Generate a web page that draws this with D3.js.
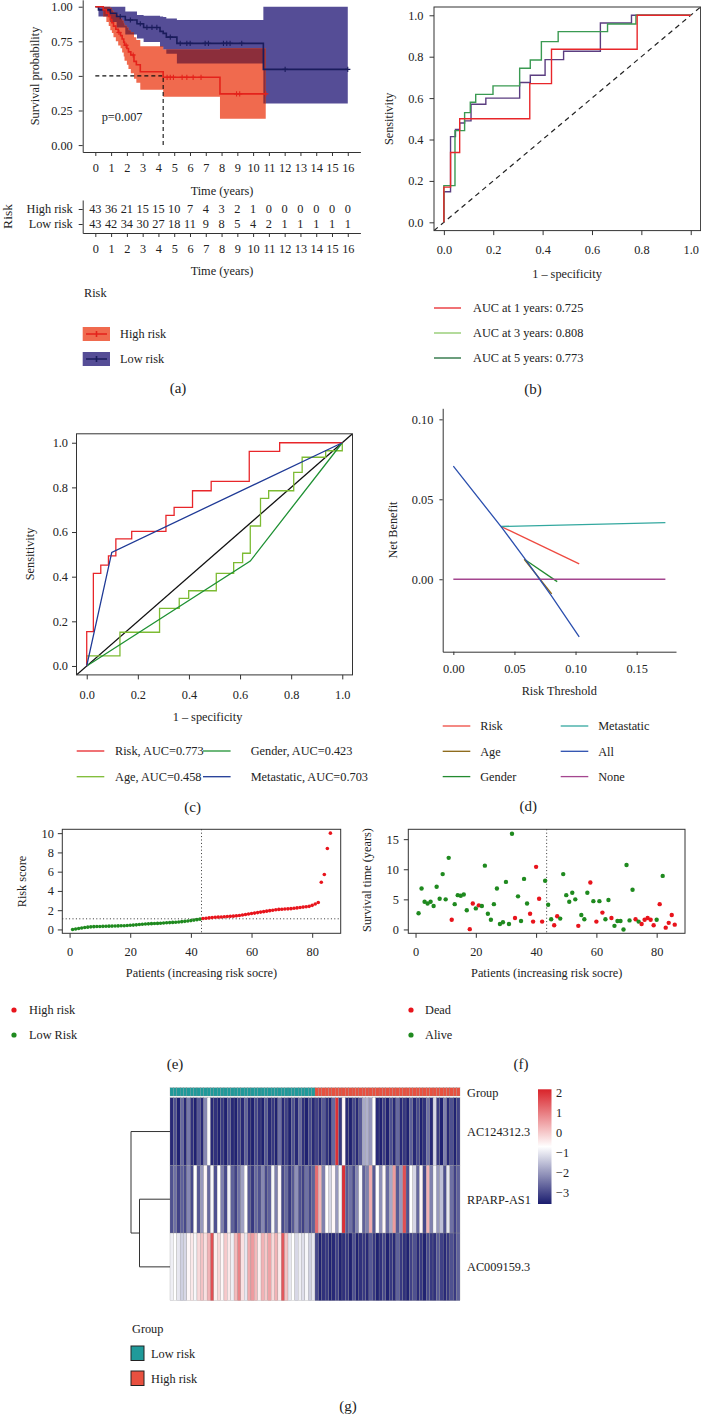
<!DOCTYPE html>
<html>
<head>
<meta charset="utf-8">
<script src="https://cdnjs.cloudflare.com/ajax/libs/d3/7.8.5/d3.min.js"></script>
<style>
  body { margin: 0; background: #fff; }
  svg text { font-family: "Liberation Serif", "Times New Roman", serif; fill: #222; }
</style>
</head>
<body>
<svg id="fig" width="701" height="1416"></svg>
<script>
var FONT = '"Liberation Serif", "Times New Roman", serif';
var FS = 12.3;

// ---------- (a) Kaplan-Meier ----------
var kmHighTime  = [0, 0.5, 0.7, 0.85, 0.95, 1.05, 1.15, 1.3, 1.45, 1.6, 1.7, 1.8, 1.85, 2.0, 2.1, 2.25, 2.45, 2.6, 2.85, 4.3, 7.9];
var kmHighSurv  = [1, .977, .953, .93, .907, .884, .86, .837, .814, .791, .767, .744, .721, .698, .674, .651, .605, .581, .53, .49, .37];
var kmHighUpper = [1, 1, 1, 1, .99, .975, .96, .945, .93, .915, .9, .88, .865, .85, .83, .815, .78, .76, .715, .69, .70];
var kmHighLower = [1, .93, .89, .86, .83, .81, .78, .75, .72, .70, .67, .64, .61, .58, .55, .52, .48, .45, .40, .35, .19];
var kmHighEnd = 10.8;
var kmHighCensor = [1.5, 1.95, 2.4, 4.55, 4.75, 4.95, 5.5, 5.8, 6.2, 6.7, 8.95, 9.15, 10.8];

var kmLowTime  = [0, 0.2, 0.95, 1.35, 1.9, 2.64, 3.06, 4.1, 4.3, 4.5, 5.17, 10.65];
var kmLowSurv  = [1, .977, .953, .929, .904, .877, .85, .822, .807, .78, .735, .547];
var kmLowUpper = [1, 1, 1, 1, .965, .94, .935, .93, .925, .915, .904, 1];
var kmLowLower = [1, .93, .89, .85, .80, .77, .745, .71, .69, .66, .59, .30];
var kmLowEnd = 16;
var kmLowCensor = [1.58, 2.22, 2.85, 3.27, 3.59, 3.9, 4.75, 5.38, 5.8, 6.01, 6.96, 7.17, 8.12, 8.33, 8.54, 9.28, 12.03, 16];

var tableYears = [0, 1, 2, 3, 4, 5, 6, 7, 8, 9, 10, 11, 12, 13, 14, 15, 16];
var atRiskHigh = [43, 36, 21, 15, 15, 10, 7, 4, 3, 2, 1, 0, 0, 0, 0, 0, 0];
var atRiskLow  = [43, 42, 34, 30, 27, 18, 11, 9, 8, 5, 4, 2, 1, 1, 1, 1, 1];
var pValue = "p=0.007";

// ---------- (b) time ROC (vertices: up, then right) ----------
var roc1y = [[0,0],[0.027,0.17],[0.064,0.337],[0.348,0.50],[0.436,0.67],[0.783,0.836],[1,1]];
var roc3y = [[0,0],[0.045,0.177],[0.084,0.443],[0.107,0.53],[0.129,0.58],[0.199,0.618],[0.307,0.659],[0.35,0.744],[0.395,0.784],[0.463,0.873],[0.663,0.921],[0.778,0.958],[1,1]];
var roc5y = [[0,0],[0.027,0.148],[0.047,0.414],[0.064,0.449],[0.084,0.48],[0.11,0.49],[0.17,0.57],[0.307,0.60],[0.35,0.675],[0.41,0.71],[0.485,0.786],[0.634,0.826],[0.76,0.963],[1,1]];
var rocLegend = ["AUC at 1 years: 0.725", "AUC at 3 years: 0.808", "AUC at 5 years: 0.773"];

// ---------- (c) clinical ROC ----------
var rocRisk = [[0,0],[0.026,0.154],[0.055,0.415],[0.085,0.452],[0.114,0.493],[0.176,0.569],[0.31,0.603],[0.342,0.675],[0.414,0.71],[0.487,0.785],[0.636,0.827],[0.755,0.961],[1,1]];
var rocAge = [[0,0],[0.13,0.045],[0.285,0.151],[0.362,0.258],[0.399,0.303],[0.507,0.337],[0.575,0.415],[0.61,0.463],[0.64,0.505],[0.68,0.627],[0.712,0.751],[0.81,0.785],[0.843,0.867],[0.935,0.935],[1,0.964],[1,1]];
var rocGender = [[0,0],[0.64,0.47],[1,1]];
var rocMeta = [[0,0],[0.098,0.509],[1,1]];
var clinLegend = ["Risk, AUC=0.773", "Gender, AUC=0.423", "Age, AUC=0.458", "Metastatic, AUC=0.703"];

// ---------- (d) decision curve ----------
var dcaRisk = [[0.039,0.033],[0.103,0.0096]];
var dcaAge = [[0.058,0.0125],[0.0805,-0.0092]];
var dcaGender = [[0.059,0.012],[0.085,-0.0015]];
var dcaMeta = [[0.039,0.033],[0.1735,0.0354]];
var dcaAll = [[0,0.0707],[0.04,0.032],[0.06,0.0114],[0.08,-0.0101],[0.103,-0.036]];
var dcaNone = [[0,0],[0.1735,0]];

// ---------- (e)/(f) risk score and survival ----------
var riskLow = [0.0,0.05,0.1,0.15,0.2,0.24,0.27,0.29,0.3,0.31, 0.32,0.33,0.34,0.35,0.36,0.37,0.38,0.39,0.41,0.43,
  0.45,0.48,0.51,0.54,0.56,0.58,0.6,0.62,0.63,0.65, 0.67,0.69,0.71,0.73,0.75,0.78,0.81,0.84,0.88,0.92, 0.97,1.02,1.07];
var riskHigh = [1.14,1.17,1.2,1.23,1.26,1.28,1.3,1.32,1.34,1.36, 1.38,1.41,1.45,1.5,1.55,1.6,1.65,1.7,1.75,1.8,
  1.85,1.9,1.95,2.0,2.05,2.08,2.1,2.12,2.14,2.16, 2.2,2.24,2.28,2.32,2.36,2.4,2.5,2.65,2.8,4.9, 5.7,8.4,10.0];
var survTime = [2.7,6.8,4.6,4.3,4.6,3.9,7.1,5.1,9.2,5.0, 11.9,1.6,4.2,5.7,5.6,5.8,3.2,0.05,4.3,3.5,
  4.0,3.9,10.6,2.6,1.6,4.2,6.8,0.9,1.2,7.9, 0.9,15.9,1.9,5.5,1.4,8.4,4.3,2.6,1.3,10.4,
  5.1,1.3,8.1,4.1,1.7,0.7,2.2,1.8,9.2,5.7, 4.6,6.1,5.0,0.6,2.4,1.7,6.1,7.8,4.7,1.3,
  4.7,2.8,1.7,4.9,1.9,0.6,1.4,1.4,0.0,10.7, 1.5,6.6,1.7,1.3,0.9,1.6,1.9,1.6,0.7,1.6,
  4.2,8.9,0.3,1.1,2.4,0.8];
var survStatus = [0,0,0,0,0,0,0,0,0,0, 0,1,0,0,0,0,0,1,1,0, 1,0,0,0,0,0,0,0,0,0,
  0,0,1,0,0,0,0,1,1,1, 1,1,0,0,0,1,1,0,0,0, 0,0,0,1,0,0,0,1,0,1,
  0,1,0,0,1,0,0,0,0,0, 0,0,1,0,1,1,1,1,1,0, 1,0,1,1,1,1];

// ---------- (g) heatmap ----------
var genes = ["AC124312.3", "RPARP-AS1", "AC009159.3"];
var exprAC124312 = [-3.4,-2.9,-3.5,-2.6,-3.4,-2.4,-3.3,-3.5,-2.8,-3.4, -2.2,-0.8,-3.4,-3.3,-3.5,-3.2,-3.5,-2.9,-3.4,-3.5,
  -3.1,-3.4,-2.7,-3.4,-3.5,-3.0,-3.3,-3.5,-2.8,-3.4, -3.2,-3.5,-2.5,-3.4,-3.1,-3.5,-2.9,-3.4,-2.6,-3.3, -3.5,-3.0,-3.4,
  -3.1,-3.4,-2.8,-3.3,-3.5,-2.6,2.0,-3.2,-0.6,-3.4, -3.5,-3.0,-3.4,-2.8,-1.8,-1.7,-2.0,-0.7,-3.4,-3.5,
  -3.1,-3.5,-2.9,-3.4,-2.6,-3.4,-3.2,-3.5,-2.7,-3.4, -3.0,-3.5,-3.3,-2.5,-3.4,-1.2,-3.2,-3.5,-2.3,-3.4, -2.9,-3.5,-3.1];
var exprRPARP = [-2.9,-2.5,-3.1,-2.7,-3.0,-2.2,-3.0,-0.7,-2.8,-2.0, -0.6,-2.6,-0.8,-2.9,-0.7,-2.3,-3.0,-0.9,-2.7,-3.1,
  -2.5,-1.9,-0.7,-2.8,-3.2,-2.6,-2.9,-2.2,-3.0,-2.7, -0.8,-2.3,-0.6,-3.0,-2.6,-3.2,-2.8,-2.1,-2.9,-3.1, -2.5,-3.0,-2.7,
  1.2,0.3,-2.3,-0.7,-1.2,-0.6,-2.0,-0.8,2.0,-2.8, -2.5,-3.0,-2.2,-0.8,-2.7,-2.3,0.4,-2.8,-0.7,-2.1,
  -0.6,-2.6,-1.8,0.6,-2.8,-2.0,1.6,-2.9,-0.7,-1.2, -2.6,-0.6,-3.0,0.3,-2.3,-0.8,-2.0,-1.5,-2.9,-1.0, -2.5,-3.1,-2.7];
var exprAC009159 = [-0.9,-0.7,-1.0,-1.3,-1.2,-0.6,-0.4,-0.8,-0.2,0.1, -0.3,0.3,1.6,-0.5,-0.2,-0.6,0.0,-0.4,-0.9,0.2,
  0.9,-0.3,-1.0,0.4,0.6,0.2,-0.5,0.3,0.0,0.5, -0.2,0.3,-0.4,1.5,0.1,-1.0,-0.7,-1.2,-0.9,-1.1, -0.8,-1.3,-1.0,
  -3.0,-3.5,-3.3,-3.2,-3.5,-3.4,-3.1,-3.5,-3.3,-3.2, -3.5,-2.9,-3.5,-3.3,-3.2,-3.4,-2.8,-3.2,-3.5,-3.3,
  -3.0,-3.5,-3.2,-3.4,-2.7,-3.2,-3.3,-3.5,-3.1,-2.9, -3.4,-3.2,-3.5,-3.0,-3.2,-3.3,-2.8,-3.1,-3.4,-3.2, -2.9,-3.2,-2.7];
var dendroHeights = [6.1, 7.8];   // merge (RPARP, AC009159), then with AC124312
var legendTicks = [2, 1, 0, -1, -2, -3];

var svg = d3.select("#fig");

function styleAxis(g, keepDomain) {
  g.attr("font-family", FONT).attr("font-size", FS);
  g.selectAll("line").attr("stroke", "#333");
  g.selectAll("path").attr("stroke", "#333");
  g.selectAll("text").attr("fill", "#333");
  if (!keepDomain) g.select(".domain").remove();
  return g;
}
function addText(x, y, txt, opts) {
  opts = opts || {};
  var t = svg.append("text").attr("x", x).attr("y", y).text(txt)
    .attr("font-size", opts.size || FS)
    .attr("text-anchor", opts.anchor || "start")
    .attr("fill", opts.fill || "#222");
  if (opts.rotate) t.attr("transform", "rotate(-90," + x + "," + y + ")");
  return t;
}

// ================= (a) =================
var xA = d3.scaleLinear().domain([-0.8, 16.8]).range([82.7, 360.4]);
var yA = d3.scaleLinear().domain([-0.05, 1.05]).range([152, -0.2]);
var gA = svg.append("g");

function kmRows(time, surv, up, lo, end) {
  var rows = time.map(function(t, i) { return {t: t, s: surv[i], hi: up[i], lo: lo[i]}; });
  var last = rows[rows.length - 1];
  rows.push({t: end, s: last.s, hi: last.hi, lo: last.lo});
  return rows;
}
var lowRows = kmRows(kmLowTime, kmLowSurv, kmLowUpper, kmLowLower, kmLowEnd);
var highRows = kmRows(kmHighTime, kmHighSurv, kmHighUpper, kmHighLower, kmHighEnd);

var band = d3.area().x(function(d) { return xA(d.t); })
  .y0(function(d) { return yA(d.lo); }).y1(function(d) { return yA(d.hi); })
  .curve(d3.curveStepAfter);
var kmLine = d3.line().x(function(d) { return xA(d.t); }).y(function(d) { return yA(d.s); })
  .curve(d3.curveStepAfter);

svg.append("clipPath").attr("id", "lowBand").append("path").attr("d", band(lowRows));
gA.append("path").attr("d", band(lowRows)).attr("fill", "#554d96");
gA.append("path").attr("d", band(highRows)).attr("fill", "#f06a4e");
gA.append("path").attr("d", band(highRows)).attr("fill", "#8c2e3b").attr("clip-path", "url(#lowBand)");

// median survival of the high-risk group
var medIdx = kmHighSurv.findIndex(function(s) { return s <= 0.5; });
var medT = kmHighTime[medIdx];
gA.append("path")
  .attr("d", "M" + xA(0) + "," + yA(0.5) + "H" + xA(medT) + "V" + yA(0))
  .attr("fill", "none").attr("stroke", "#111").attr("stroke-width", 1.1).attr("stroke-dasharray", "4,3");

gA.append("path").attr("d", kmLine(lowRows)).attr("fill", "none").attr("stroke", "#1b1c5c").attr("stroke-width", 1.6);
gA.append("path").attr("d", kmLine(highRows)).attr("fill", "none").attr("stroke", "#e4221b").attr("stroke-width", 1.6);

function censorMarks(times, time, surv, color) {
  gA.selectAll(null).data(times).enter().append("path")
    .attr("transform", function(t) {
      var s = surv[d3.bisectRight(time, t) - 1];
      return "translate(" + xA(t) + "," + yA(s) + ")";
    })
    .attr("d", "M-2.6,0H2.6M0,-2.6V2.6")
    .attr("stroke", color).attr("stroke-width", 1.1);
}
censorMarks(kmLowCensor, kmLowTime, kmLowSurv, "#1b1c5c");
censorMarks(kmHighCensor, kmHighTime, kmHighSurv, "#e4221b");

styleAxis(gA.append("g").attr("transform", "translate(82.7,0)")
  .call(d3.axisLeft(yA).tickValues([0, 0.25, 0.5, 0.75, 1]).tickFormat(d3.format(".2f"))
    .tickSize(4).tickPadding(6).tickSizeOuter(0)), true);
styleAxis(gA.append("g").attr("transform", "translate(0,152)")
  .call(d3.axisBottom(xA).tickValues(tableYears).tickSize(4).tickPadding(7.5).tickSizeOuter(0)), true);
addText(101.7, 121, pValue);
addText(39, 76, "Survival probability", {anchor: "middle", rotate: true});
addText(222, 194.5, "Time (years)", {anchor: "middle"});

// number-at-risk table
var tableRows = ["High risk", "Low risk"];
var rowColor = {"High risk": "#e4221b", "Low risk": "#2b2a78"};
var yT = d3.scalePoint().domain(tableRows).range([200, 233]).padding(0.6);
var gT = styleAxis(gA.append("g").attr("transform", "translate(82.7,0)")
  .call(d3.axisLeft(yT).tickSize(4).tickPadding(6).tickSizeOuter(0)), true);
gT.selectAll(".tick text").attr("fill", function(d) { return rowColor[d]; });
styleAxis(gA.append("g").attr("transform", "translate(0,233)")
  .call(d3.axisBottom(xA).tickValues(tableYears).tickSize(4).tickPadding(7.5).tickSizeOuter(0)), true);
[atRiskHigh, atRiskLow].forEach(function(vals, r) {
  gA.selectAll(null).data(vals).enter().append("text")
    .attr("x", function(d, i) { return xA(tableYears[i]); })
    .attr("y", yT(tableRows[r]) + 4.3)
    .attr("text-anchor", "middle").attr("font-size", FS)
    .attr("fill", rowColor[tableRows[r]])
    .text(function(d) { return d; });
});
addText(11.5, 216.5, "Risk", {anchor: "middle", rotate: true, size: 13.5});
addText(222, 274.5, "Time (years)", {anchor: "middle"});

// legend (a)
addText(84, 296.5, "Risk");
[["High risk", "#f06a4e", "#e4221b", 327], ["Low risk", "#554d96", "#1b1c5c", 352]].forEach(function(k) {
  svg.append("rect").attr("x", 82.7).attr("y", k[3]).attr("width", 27.3).attr("height", 14).attr("fill", k[1]);
  svg.append("path").attr("d", "M86," + (k[3] + 7) + "H107M96.5," + (k[3] + 4) + "V" + (k[3] + 10))
    .attr("stroke", k[2]).attr("stroke-width", 1.6);
  addText(120, k[3] + 11.3, k[0]);
});
addText(178, 393, "(a)", {anchor: "middle", size: 15});

// ================= ROC helpers =================
function rocPanel(x, y, cid) {
  var d = x.domain(), e = y.domain();
  svg.append("clipPath").attr("id", cid).append("rect")
    .attr("x", x(d[0])).attr("y", y(e[1])).attr("width", x(d[1]) - x(d[0])).attr("height", y(e[0]) - y(e[1]));
  var g = svg.append("g");
  var plot = g.append("g").attr("clip-path", "url(#" + cid + ")");
  g.append("rect").attr("x", x(d[0])).attr("y", y(e[1]))
    .attr("width", x(d[1]) - x(d[0])).attr("height", y(e[0]) - y(e[1]))
    .attr("fill", "none").attr("stroke", "#333").attr("stroke-width", 1);
  return {g: g, plot: plot};
}

// ================= (b) =================
var xB = d3.scaleLinear().domain([-0.04, 1.04]).range([434, 700.6]);
var yB = d3.scaleLinear().domain([-0.04, 1.04]).range([230.6, 7]);
var pB = rocPanel(xB, yB, "clipB");
var stepB = d3.line().x(function(d) { return xB(d[0]); }).y(function(d) { return yB(d[1]); }).curve(d3.curveStepBefore);
pB.plot.append("line").attr("x1", xB(-0.04)).attr("y1", yB(-0.04)).attr("x2", xB(1.04)).attr("y2", yB(1.04))
  .attr("stroke", "#222").attr("stroke-width", 1.2).attr("stroke-dasharray", "5,4");
[[roc5y, "#5b3d80"], [roc3y, "#3a9a52"], [roc1y, "#e8262a"]].forEach(function(c) {
  pB.plot.append("path").attr("d", stepB(c[0])).attr("fill", "none").attr("stroke", c[1]).attr("stroke-width", 1.4);
});
var rocTicks = [0, 0.2, 0.4, 0.6, 0.8, 1];
styleAxis(pB.g.append("g").attr("transform", "translate(434,0)")
  .call(d3.axisLeft(yB).tickValues(rocTicks).tickFormat(d3.format(".1f")).tickSize(4.5).tickPadding(6)));
styleAxis(pB.g.append("g").attr("transform", "translate(0,230.6)")
  .call(d3.axisBottom(xB).tickValues(rocTicks).tickFormat(d3.format(".1f")).tickSize(4.5).tickPadding(10.5)));
addText(393, 118.8, "Sensitivity", {anchor: "middle", rotate: true});
addText(567, 277.5, "1 \u2013 specificity", {anchor: "middle"});
var rocLegColors = ["#e8262a", "#8cc866", "#1c6a36"];
rocLegend.forEach(function(txt, i) {
  var y = 308 + i * 25;
  svg.append("line").attr("x1", 434).attr("x2", 461).attr("y1", y).attr("y2", y)
    .attr("stroke", rocLegColors[i]).attr("stroke-width", 1.3);
  addText(473, y + 4.3, txt);
});
addText(533, 394, "(b)", {anchor: "middle", size: 15});

// ================= (c) =================
var xC = d3.scaleLinear().domain([-0.04, 1.04]).range([76.5, 352.5]);
var yC = d3.scaleLinear().domain([-0.04, 1.04]).range([674.9, 433.8]);
var pC = rocPanel(xC, yC, "clipC");
var stepC = d3.line().x(function(d) { return xC(d[0]); }).y(function(d) { return yC(d[1]); }).curve(d3.curveStepBefore);
var polyC = d3.line().x(function(d) { return xC(d[0]); }).y(function(d) { return yC(d[1]); });
pC.plot.append("line").attr("x1", xC(-0.04)).attr("y1", yC(-0.04)).attr("x2", xC(1.04)).attr("y2", yC(1.04))
  .attr("stroke", "#111").attr("stroke-width", 1.3);
pC.plot.append("path").attr("d", stepC(rocAge)).attr("fill", "none").attr("stroke", "#7dbb33").attr("stroke-width", 1.3);
pC.plot.append("path").attr("d", polyC(rocGender)).attr("fill", "none").attr("stroke", "#1f9134").attr("stroke-width", 1.3);
pC.plot.append("path").attr("d", stepC(rocRisk)).attr("fill", "none").attr("stroke", "#e8262a").attr("stroke-width", 1.3);
pC.plot.append("path").attr("d", polyC(rocMeta)).attr("fill", "none").attr("stroke", "#1f3a96").attr("stroke-width", 1.3);
styleAxis(pC.g.append("g").attr("transform", "translate(76.5,0)")
  .call(d3.axisLeft(yC).tickValues(rocTicks).tickFormat(d3.format(".1f")).tickSize(4.5).tickPadding(4)));
styleAxis(pC.g.append("g").attr("transform", "translate(0,674.9)")
  .call(d3.axisBottom(xC).tickValues(rocTicks).tickFormat(d3.format(".1f")).tickSize(4.5).tickPadding(11)));
addText(34, 554, "Sensitivity", {anchor: "middle", rotate: true});
addText(207.5, 721, "1 \u2013 specificity", {anchor: "middle"});
var clinColors = ["#e8262a", "#1f9134", "#7dbb33", "#1f3a96"];
clinLegend.forEach(function(txt, i) {
  var col = i % 2, row = Math.floor(i / 2);
  var x0 = col ? 203 : 76.7, y = 751 + row * 25.7;
  svg.append("line").attr("x1", x0).attr("x2", x0 + 27.6).attr("y1", y).attr("y2", y)
    .attr("stroke", clinColors[i]).attr("stroke-width", 1.3);
  addText(x0 + (col ? 47.7 : 38.3), y + 4.3, txt);
});
addText(192.7, 811.5, "(c)", {anchor: "middle", size: 15});

// ================= (d) =================
var xD = d3.scaleLinear().domain([-0.0087, 0.1822]).range([442.7, 676]);
var yD = d3.scaleLinear().domain([-0.0453, 0.1069]).range([651.7, 408.3]);
var gD = svg.append("g");
var lineD = d3.line().x(function(d) { return xD(d[0]); }).y(function(d) { return yD(d[1]); });
var dcaSeries = [
  ["Risk", dcaRisk, "#ee4a40"], ["Age", dcaAge, "#8a6512"], ["Gender", dcaGender, "#238a30"],
  ["Metastatic", dcaMeta, "#33a89f"], ["None", dcaNone, "#a4468f"], ["All", dcaAll, "#2b4fae"]
];
dcaSeries.forEach(function(s) {
  gD.append("path").attr("d", lineD(s[1])).attr("fill", "none").attr("stroke", s[2]).attr("stroke-width", 1.3);
});
styleAxis(gD.append("g").attr("transform", "translate(442.7,0)")
  .call(d3.axisLeft(yD).tickValues([0, 0.05, 0.10]).tickFormat(d3.format(".2f")).tickSize(3.3).tickPadding(6).tickSizeOuter(0)), true);
styleAxis(gD.append("g").attr("transform", "translate(0,651.7)")
  .call(d3.axisBottom(xD).tickValues([0, 0.05, 0.10, 0.15]).tickFormat(d3.format(".2f")).tickSize(3.3).tickPadding(9).tickSizeOuter(0)), true);
addText(397, 530, "Net Benefit", {anchor: "middle", rotate: true});
addText(559.3, 695, "Risk Threshold", {anchor: "middle"});
var dcaLegendOrder = ["Risk", "Age", "Gender", "Metastatic", "All", "None"];
dcaLegendOrder.forEach(function(name, i) {
  var s = dcaSeries.find(function(d) { return d[0] === name; });
  var col = Math.floor(i / 3), row = i % 3;
  var x0 = col ? 560.7 : 442.7, y = 726 + row * 25.3;
  svg.append("line").attr("x1", x0).attr("x2", x0 + 27.6).attr("y1", y).attr("y2", y)
    .attr("stroke", s[2]).attr("stroke-width", 1.3);
  addText(x0 + 37.5, y + 4.3, name);
});
addText(528.3, 810.5, "(d)", {anchor: "middle", size: 15});

// ================= (e) =================
var nLow = riskLow.length;
var riskAll = riskLow.concat(riskHigh);
var riskCut = (riskLow[nLow - 1] + riskHigh[0]) / 2;
var ptRed = "#e8141c", ptGreen = "#1f8a1f";

var xE = d3.scaleLinear().domain([-2.4, 89.4]).range([62.3, 340.7]);
var yE = d3.scaleLinear().domain([-0.4, 10.4]).range([933.3, 829.3]);
var gE = svg.append("g");
gE.append("rect").attr("x", 62.3).attr("y", 829.3).attr("width", 278.4).attr("height", 104)
  .attr("fill", "none").attr("stroke", "#333");
gE.append("line").attr("x1", xE(nLow + 0.5)).attr("x2", xE(nLow + 0.5)).attr("y1", 829.3).attr("y2", 933.3)
  .attr("stroke", "#333").attr("stroke-dasharray", "1,2.4");
gE.append("line").attr("x1", 62.3).attr("x2", 340.7).attr("y1", yE(riskCut)).attr("y2", yE(riskCut))
  .attr("stroke", "#333").attr("stroke-dasharray", "1,2.4");
gE.selectAll(null).data(riskAll).enter().append("circle")
  .attr("cx", function(d, i) { return xE(i + 1); })
  .attr("cy", function(d) { return yE(d); })
  .attr("r", 1.8)
  .attr("fill", function(d, i) { return i < nLow ? ptGreen : ptRed; });
styleAxis(gE.append("g").attr("transform", "translate(62.3,0)")
  .call(d3.axisLeft(yE).tickValues([0, 2, 4, 6, 8, 10]).tickSize(4.5).tickPadding(4)));
styleAxis(gE.append("g").attr("transform", "translate(0,933.3)")
  .call(d3.axisBottom(xE).tickValues([0, 20, 40, 60, 80]).tickSize(4.5).tickPadding(9.5)));
addText(26, 881.5, "Risk score", {anchor: "middle", rotate: true});
addText(201.5, 977, "Patients (increasing risk socre)", {anchor: "middle"});
[["High risk", ptRed], ["Low Risk", ptGreen]].forEach(function(k, i) {
  var y = 1010 + i * 25;
  svg.append("circle").attr("cx", 14).attr("cy", y).attr("r", 2.6).attr("fill", k[1]);
  addText(29, y + 4.3, k[0]);
});
addText(175, 1069, "(e)", {anchor: "middle", size: 15});

// ================= (f) =================
var xF = d3.scaleLinear().domain([-2.4, 89.4]).range([408.3, 685]);
var yF = d3.scaleLinear().domain([-0.64, 16.64]).range([933.3, 829.3]);
var gF = svg.append("g");
gF.append("rect").attr("x", 408.3).attr("y", 829.3).attr("width", 276.7).attr("height", 104)
  .attr("fill", "none").attr("stroke", "#333");
gF.append("line").attr("x1", xF(nLow + 0.5)).attr("x2", xF(nLow + 0.5)).attr("y1", 829.3).attr("y2", 933.3)
  .attr("stroke", "#333").attr("stroke-dasharray", "1,2.4");
gF.selectAll(null).data(survTime).enter().append("circle")
  .attr("cx", function(d, i) { return xF(i + 1); })
  .attr("cy", function(d) { return yF(d); })
  .attr("r", 2.2)
  .attr("fill", function(d, i) { return survStatus[i] ? ptRed : ptGreen; });
styleAxis(gF.append("g").attr("transform", "translate(408.3,0)")
  .call(d3.axisLeft(yF).tickValues([0, 5, 10, 15]).tickSize(4.5).tickPadding(5)));
styleAxis(gF.append("g").attr("transform", "translate(0,933.3)")
  .call(d3.axisBottom(xF).tickValues([0, 20, 40, 60, 80]).tickSize(4.5).tickPadding(9.5)));
addText(371, 880, "Survival time (years)", {anchor: "middle", rotate: true});
addText(546.7, 977, "Patients (increasing risk socre)", {anchor: "middle"});
[["Dead", ptRed], ["Alive", ptGreen]].forEach(function(k, i) {
  var y = 1010 + i * 25;
  svg.append("circle").attr("cx", 411).attr("cy", y).attr("r", 2.6).attr("fill", k[1]);
  addText(425, y + 4.3, k[0]);
});
addText(521, 1069, "(f)", {anchor: "middle", size: 15});

// ================= (g) heatmap =================
var expr = [exprAC124312, exprRPARP, exprAC009159];
var cols = d3.range(riskAll.length);
var xG = d3.scaleBand().domain(cols).range([170, 460]);
var yG = d3.scaleBand().domain(genes).range([1097.7, 1300.7]);
var heatColor = d3.scaleLinear().domain([-3.57, -0.7, 2.17]).range(["#1a1c6e", "#ffffff", "#d9232a"]);
var groupColor = {"Low risk": "#1f9a9a", "High risk": "#e8503f"};
var gG = svg.append("g");

gG.selectAll(null).data(cols).enter().append("rect")
  .attr("x", function(d) { return xG(d); }).attr("y", 1087.7)
  .attr("width", xG.bandwidth()).attr("height", 8.3)
  .attr("fill", function(d) { return d < nLow ? groupColor["Low risk"] : groupColor["High risk"]; })
  .attr("stroke", "#8a8a8a").attr("stroke-width", 0.25);

genes.forEach(function(gene, r) {
  gG.selectAll(null).data(expr[r]).enter().append("rect")
    .attr("x", function(d, i) { return xG(i); }).attr("y", yG(gene))
    .attr("width", xG.bandwidth()).attr("height", yG.bandwidth())
    .attr("fill", function(d) { return heatColor(d); })
    .attr("stroke", "#8a8a8a").attr("stroke-width", 0.25);
  addText(467, yG(gene) + yG.bandwidth() / 2 + 4.3, gene);
});
addText(467, 1096.8, "Group");

// row dendrogram
var dX = d3.scaleLinear().domain([0, dendroHeights[1]]).range([170, 131]);
var cy = genes.map(function(g) { return yG(g) + yG.bandwidth() / 2; });
var mid12 = (cy[1] + cy[2]) / 2;
gG.append("path")
  .attr("d", "M170," + cy[1] + "H" + dX(dendroHeights[0]) + "V" + cy[2] + "H170" +
    "M" + dX(dendroHeights[0]) + "," + mid12 + "H" + dX(dendroHeights[1]) + "V" + cy[0] + "H170")
  .attr("fill", "none").attr("stroke", "#333").attr("stroke-width", 1);

// colour key
var yLeg = d3.scaleLinear().domain([-3.57, 2.17]).range([1204, 1089.3]);
var grad = svg.append("defs").append("linearGradient").attr("id", "heatKey")
  .attr("x1", 0).attr("y1", 1).attr("x2", 0).attr("y2", 0);
d3.range(0, 1.0001, 0.05).forEach(function(f) {
  grad.append("stop").attr("offset", f).attr("stop-color", heatColor(-3.57 + f * 5.74));
});
svg.append("rect").attr("x", 538).attr("y", 1089.3).attr("width", 13.5).attr("height", 114.7).attr("fill", "url(#heatKey)");
legendTicks.forEach(function(v) {
  addText(556, yLeg(v) + 4.3, v < 0 ? "\u2212" + Math.abs(v) : String(v));
});

// group legend
addText(132, 1332.5, "Group");
[["Low risk", 1346], ["High risk", 1371]].forEach(function(k) {
  svg.append("rect").attr("x", 131).attr("y", k[1]).attr("width", 13).attr("height", 14.5)
    .attr("fill", groupColor[k[0]]).attr("stroke", "#222").attr("stroke-width", 1);
  addText(151, k[1] + 11.5, k[0]);
});
addText(348, 1411, "(g)", {anchor: "middle", size: 15});
</script>
</body>
</html>
